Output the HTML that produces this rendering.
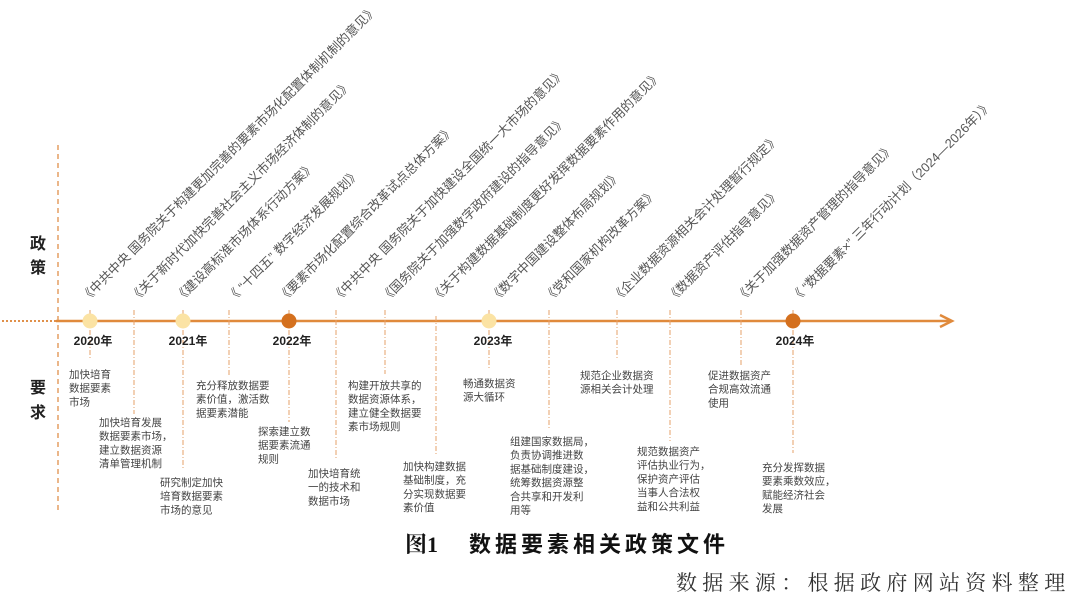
<!DOCTYPE html>
<html><head><meta charset="utf-8"><style>
html,body{margin:0;padding:0;background:#fff;}
svg{display:block;}
.r{font-family:"Liberation Sans","Noto Sans CJK SC",sans-serif;font-size:12.8px;fill:#555;}
.b{font-family:"Liberation Sans","Noto Sans CJK SC",sans-serif;font-size:10.5px;fill:#444;}
.y{font-family:"Liberation Sans","Noto Sans CJK SC",sans-serif;font-size:12px;font-weight:bold;fill:#222;}
.s{font-family:"Liberation Sans","Noto Sans CJK SC",sans-serif;font-size:16px;font-weight:bold;fill:#222;}
</style></head><body>
<svg width="1080" height="601" viewBox="0 0 1080 601" xmlns="http://www.w3.org/2000/svg">
<line x1="58" y1="145" x2="58" y2="512" stroke="#e0904a" stroke-width="1.3" stroke-dasharray="5,4"/>
<line x1="2" y1="321" x2="56" y2="321" stroke="#e0904a" stroke-width="2" stroke-dasharray="2,2"/>
<line x1="56" y1="321" x2="950" y2="321" stroke="#e08a3c" stroke-width="2.5"/>
<polyline points="940,315 952,321 940,327" fill="none" stroke="#e08a3c" stroke-width="2.5"/>

<g stroke="#e6a06a" stroke-width="1" stroke-dasharray="5,2,1,2">
<line x1="90" y1="310" x2="90" y2="360"/>
<line x1="134" y1="310" x2="134" y2="414"/>
<line x1="183" y1="310" x2="183" y2="469"/>
<line x1="229" y1="310" x2="229" y2="376"/>
<line x1="289" y1="310" x2="289" y2="422"/>
<line x1="336" y1="310" x2="336" y2="460"/>
<line x1="385" y1="310" x2="385" y2="374"/>
<line x1="436" y1="316" x2="436" y2="455"/>
<line x1="489" y1="310" x2="489" y2="369"/>
<line x1="549" y1="310" x2="549" y2="428"/>
<line x1="617" y1="310" x2="617" y2="359"/>
<line x1="670" y1="310" x2="670" y2="441"/>
<line x1="741" y1="310" x2="741" y2="365"/>
<line x1="793" y1="310" x2="793" y2="453"/>
</g>

<circle cx="90" cy="321" r="7.5" fill="#fbe3a4"/>
<circle cx="183" cy="321" r="7.5" fill="#fbe3a4"/>
<circle cx="289" cy="321" r="7.5" fill="#d4701e"/>
<circle cx="489" cy="321" r="7.5" fill="#fbe3a4"/>
<circle cx="793" cy="321" r="7.5" fill="#d4701e"/>

<text class="y" x="93" y="345" text-anchor="middle">2020年</text>
<text class="y" x="188" y="345" text-anchor="middle">2021年</text>
<text class="y" x="292" y="345" text-anchor="middle">2022年</text>
<text class="y" x="493" y="345" text-anchor="middle">2023年</text>
<text class="y" x="795" y="345" text-anchor="middle">2024年</text>

<text class="s" x="30" y="249">政</text>
<text class="s" x="30" y="273">策</text>
<text class="s" x="30" y="393">要</text>
<text class="s" x="30" y="418">求</text>

<g class="r">
<text transform="translate(86,303) rotate(-45)">《中共中央 国务院关于构建更加完善的要素市场化配置体制机制的意见》</text>
<text transform="translate(135,303) rotate(-45)">《关于新时代加快完善社会主义市场经济体制的意见》</text>
<text transform="translate(180,303) rotate(-45)">《建设高标准市场体系行动方案》</text>
<text transform="translate(232,303) rotate(-45)">《 “十四五” 数字经济发展规划》</text>
<text transform="translate(283,303) rotate(-45)">《要素市场化配置综合改革试点总体方案》</text>
<text transform="translate(337,303) rotate(-45)">《中共中央 国务院关于加快建设全国统一大市场的意见》</text>
<text transform="translate(386,303) rotate(-45)">《国务院关于加强数字政府建设的指导意见》</text>
<text transform="translate(436,303) rotate(-45)">《关于构建数据基础制度更好发挥数据要素作用的意见》</text>
<text transform="translate(495,303) rotate(-45)">《数字中国建设整体布局规划》</text>
<text transform="translate(549,303) rotate(-45)">《党和国家机构改革方案》</text>
<text transform="translate(617,303) rotate(-45)">《企业数据资源相关会计处理暂行规定》</text>
<text transform="translate(672,303) rotate(-45)">《数据资产评估指导意见》</text>
<text transform="translate(741,303) rotate(-45)">《关于加强数据资产管理的指导意见》</text>
<text transform="translate(796,303) rotate(-45)">《 “数据要素×” 三年行动计划（2024—2026年）》</text>
</g>

<g class="b">
<text x="69" y="378">加快培育<tspan x="69" dy="13.7">数据要素</tspan><tspan x="69" dy="13.7">市场</tspan></text>
<text x="99" y="426">加快培育发展<tspan x="99" dy="13.7">数据要素市场，</tspan><tspan x="99" dy="13.7">建立数据资源</tspan><tspan x="99" dy="13.7">清单管理机制</tspan></text>
<text x="160" y="486">研究制定加快<tspan x="160" dy="13.7">培育数据要素</tspan><tspan x="160" dy="13.7">市场的意见</tspan></text>
<text x="196" y="389">充分释放数据要<tspan x="196" dy="13.7">素价值，激活数</tspan><tspan x="196" dy="13.7">据要素潜能</tspan></text>
<text x="258" y="435">探索建立数<tspan x="258" dy="13.7">据要素流通</tspan><tspan x="258" dy="13.7">规则</tspan></text>
<text x="308" y="477">加快培育统<tspan x="308" dy="13.7">一的技术和</tspan><tspan x="308" dy="13.7">数据市场</tspan></text>
<text x="348" y="389">构建开放共享的<tspan x="348" dy="13.7">数据资源体系，</tspan><tspan x="348" dy="13.7">建立健全数据要</tspan><tspan x="348" dy="13.7">素市场规则</tspan></text>
<text x="403" y="470">加快构建数据<tspan x="403" dy="13.7">基础制度，充</tspan><tspan x="403" dy="13.7">分实现数据要</tspan><tspan x="403" dy="13.7">素价值</tspan></text>
<text x="463" y="387">畅通数据资<tspan x="463" dy="13.7">源大循环</tspan></text>
<text x="510" y="445">组建国家数据局，<tspan x="510" dy="13.7">负责协调推进数</tspan><tspan x="510" dy="13.7">据基础制度建设，</tspan><tspan x="510" dy="13.7">统筹数据资源整</tspan><tspan x="510" dy="13.7">合共享和开发利</tspan><tspan x="510" dy="13.7">用等</tspan></text>
<text x="580" y="379">规范企业数据资<tspan x="580" dy="13.7">源相关会计处理</tspan></text>
<text x="637" y="455">规范数据资产<tspan x="637" dy="13.7">评估执业行为，</tspan><tspan x="637" dy="13.7">保护资产评估</tspan><tspan x="637" dy="13.7">当事人合法权</tspan><tspan x="637" dy="13.7">益和公共利益</tspan></text>
<text x="708" y="379">促进数据资产<tspan x="708" dy="13.7">合规高效流通</tspan><tspan x="708" dy="13.7">使用</tspan></text>
<text x="762" y="471">充分发挥数据<tspan x="762" dy="13.7">要素乘数效应，</tspan><tspan x="762" dy="13.7">赋能经济社会</tspan><tspan x="762" dy="13.7">发展</tspan></text>
</g>

<text x="405" y="552" style="font-family:'Liberation Serif','Noto Serif CJK SC',serif;font-size:22px;font-weight:bold;fill:#111;">图1<tspan x="469" style="font-family:'Liberation Sans','Noto Sans CJK SC',sans-serif;letter-spacing:4px;">数据要素相关政策文件</tspan></text>
<text x="676" y="590" style="font-family:'Liberation Serif','Noto Serif CJK SC',serif;font-size:21px;fill:#333;letter-spacing:5.3px;">数据来源：根据政府网站资料整理</text>
</svg>
</body></html>
